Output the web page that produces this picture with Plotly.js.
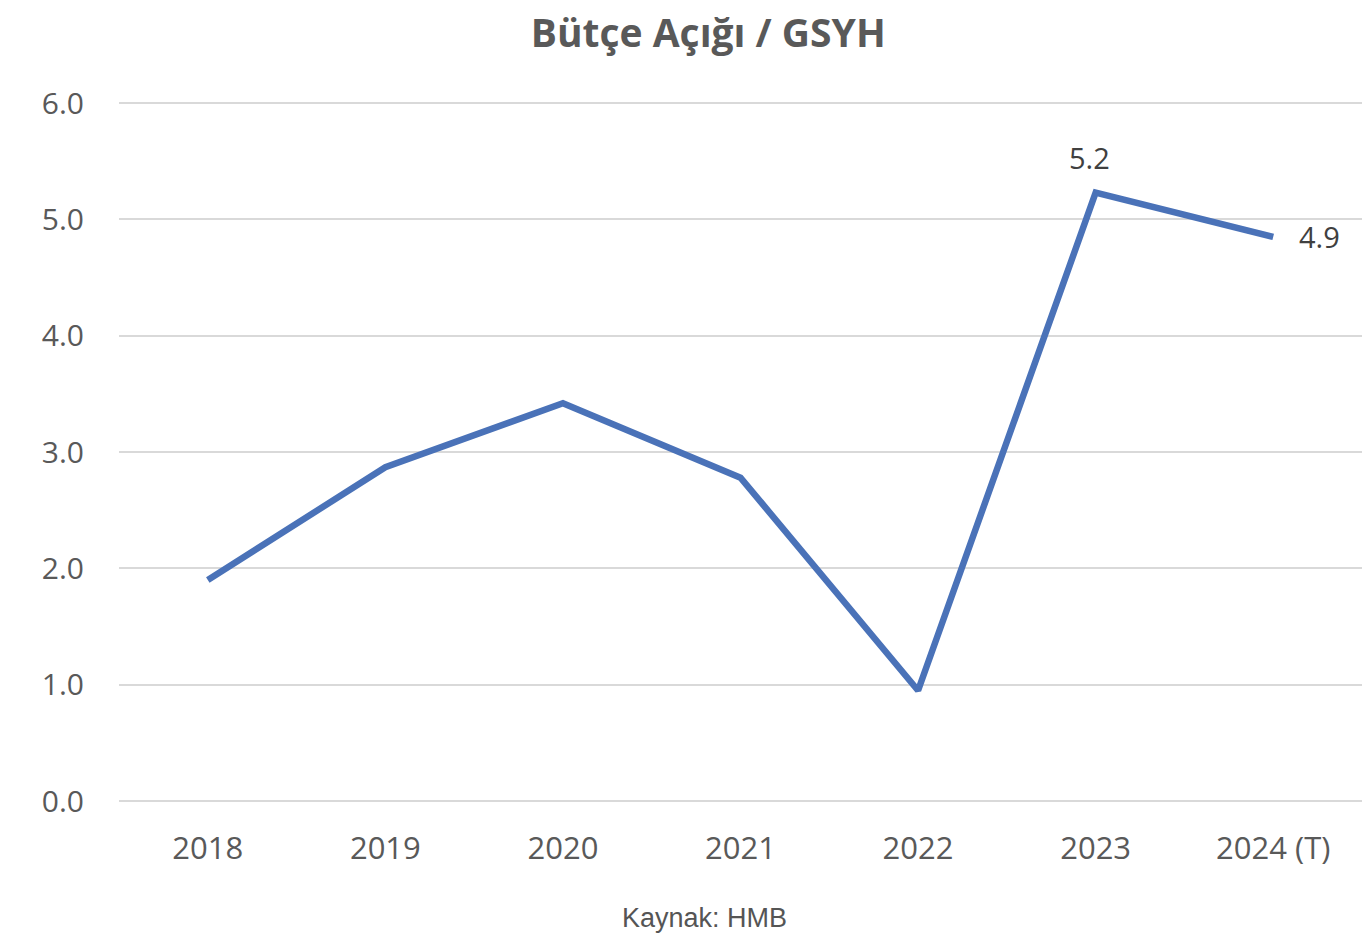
<!DOCTYPE html>
<html>
<head>
<meta charset="utf-8">
<script src="https://cdn.plot.ly/plotly-3.0.1.min.js"></script>
<style>html,body{margin:0;padding:0;background:#fff;}#chart{width:1362px;height:940px;}</style>
</head>
<body>
<div id="chart"></div>
<script>
const years = ["2018", "2019", "2020", "2021", "2022", "2023", "2024 (T)"];
const deficitToGdp = [1.9, 2.87, 3.42, 2.78, 0.95, 5.23, 4.85];
const labelText = ["", "", "", "", "", "5.2", "4.9"];
const yTicks = [0, 1, 2, 3, 4, 5, 6];
const yTickText = ["0.0", "1.0", "2.0", "3.0", "4.0", "5.0", "6.0"];

const trace = {
  x: years,
  y: deficitToGdp,
  type: "scatter",
  mode: "lines",
  line: {color: "#4A72B8", width: 6.5},
  hoverinfo: "x+y"
};

// data labels built from the data arrays (x given as category index)
const labelAnnotations = [];
labelText.forEach(function (t, i) {
  if (!t) return;
  const last = i === years.length - 1;
  labelAnnotations.push({
    text: t,
    x: i, y: deficitToGdp[i],
    xref: "x", yref: "y",
    xanchor: last ? "left" : "center",
    yanchor: last ? "middle" : "bottom",
    xshift: last ? 24 : -6,
    yshift: last ? 0 : 14,
    showarrow: false,
    font: {family: "Open Sans, sans-serif", size: 29, color: "#404040"}
  });
});

const layout = {
  width: 1362,
  height: 940,
  margin: {l: 119, r: 0, t: 102, b: 139},
  paper_bgcolor: "#ffffff",
  plot_bgcolor: "#ffffff",
  showlegend: false,
  title: {
    text: "<b>Bütçe Açığı / GSYH</b>",
    x: 0.52, xanchor: "center",
    y: 0.964, yanchor: "middle",
    font: {family: "Open Sans, sans-serif", size: 39, color: "#595959"}
  },
  xaxis: {
    type: "category",
    range: [-0.5, 6.5],
    showgrid: false,
    showline: false,
    zeroline: false,
    ticks: "",
    tickfont: {family: "Open Sans, sans-serif", size: 31, color: "#595959"},
    ticklabelstandoff: 26
  },
  yaxis: {
    range: [0, 6.01],
    tickvals: yTicks,
    ticktext: yTickText,
    showgrid: true,
    gridcolor: "#d9d9d9",
    gridwidth: 2,
    zeroline: true,
    zerolinecolor: "#d9d9d9",
    zerolinewidth: 2,
    showline: false,
    ticks: "",
    tickfont: {family: "Open Sans, sans-serif", size: 30, color: "#595959"},
    ticklabelstandoff: 34
  },
  annotations: labelAnnotations.concat([{
    text: "Kaynak: HMB",
    xref: "paper", yref: "paper",
    x: 0.4714, y: -0.168,
    xanchor: "center", yanchor: "middle",
    showarrow: false,
    font: {family: "Liberation Sans, Arial, sans-serif", size: 27, color: "#555555"}
  }])
};

Plotly.newPlot("chart", [trace], layout, {displayModeBar: false, staticPlot: true});
</script>
</body>
</html>
